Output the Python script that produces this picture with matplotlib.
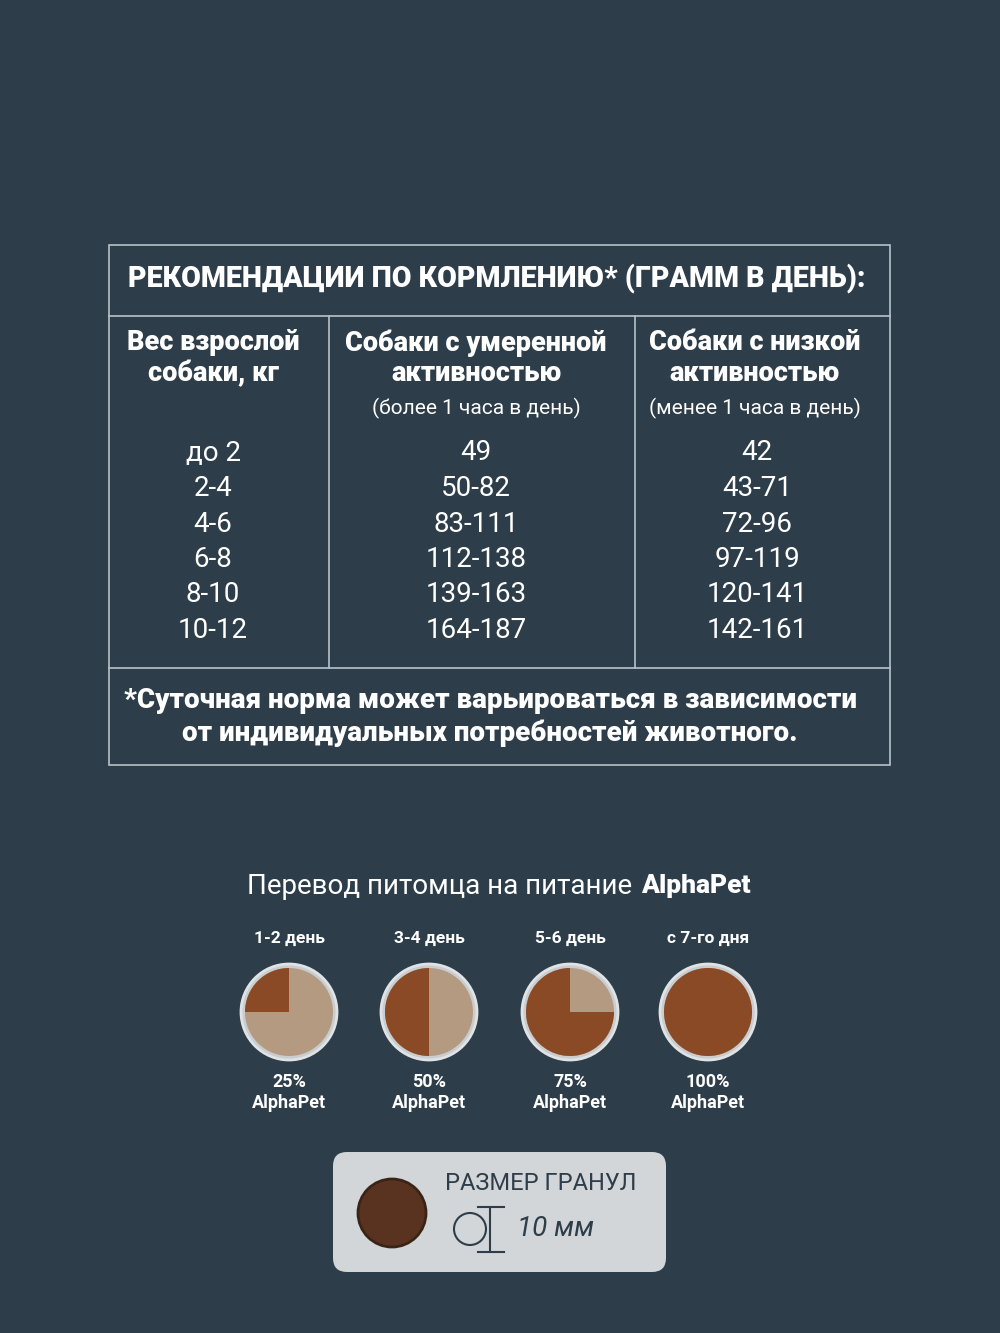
import matplotlib
matplotlib.use("Agg")
import matplotlib.pyplot as plt
from matplotlib.patches import Rectangle, Circle, Wedge, FancyBboxPatch

weights = ["до 2", "2-4", "4-6", "6-8", "8-10", "10-12"]
moderate = ["49", "50-82", "83-111", "112-138", "139-163", "164-187"]
low = ["42", "43-71", "72-96", "97-119", "120-141", "142-161"]
stages = ["1-2 день", "3-4 день", "5-6 день", "с 7-го дня"]
shares = [25, 50, 75, 100]

BG = "#2d3e4a"
W = "white"
fig = plt.figure(figsize=(10, 13.33), dpi=100, facecolor=BG)
ax = fig.add_axes([0, 0, 1, 1])
ax.set_xlim(0, 1000); ax.set_ylim(1333, 0); ax.axis("off")
ax.set_facecolor(BG)

lc = "#b8c2c8"
ax.add_patch(Rectangle((109, 245), 781, 520, fill=False, ec=lc, lw=1.2))
for y in (316, 668):
    ax.plot([109, 890], [y, y], color=lc, lw=1.2)
for x in (329, 635):
    ax.plot([x, x], [316, 668], color=lc, lw=1.2)

B = dict(color=W, fontfamily="Roboto", fontweight="black", ha="center", va="center")
R = dict(color=W, fontfamily="Roboto", ha="center", va="center")
ax.text(497, 278, "РЕКОМЕНДАЦИИ ПО КОРМЛЕНИЮ* (ГРАММ В ДЕНЬ):", fontsize=20.6, **B)
ax.text(213, 358, "Вес взрослой\nсобаки, кг", fontsize=19.5, linespacing=1.15, **B)
ax.text(476, 358, "Собаки с умеренной\nактивностью", fontsize=19.5, linespacing=1.15, **B)
ax.text(755, 358, "Собаки с низкой\nактивностью", fontsize=19.5, linespacing=1.15, **B)
ax.text(476, 408, "(более 1 часа в день)", fontsize=15, **R)
ax.text(755, 408, "(менее 1 часа в день)", fontsize=15, **R)
for i, (a, b, c) in enumerate(zip(weights, moderate, low)):
    y = 453 + i * 35.5
    ax.text(213, y, a, fontsize=20, **R)
    ax.text(476, y, b, fontsize=20, **R)
    ax.text(757, y, c, fontsize=20, **R)
ax.text(490, 717, "*Суточная норма может варьироваться в зависимости\nот индивидуальных потребностей животного.",
        fontsize=20, linespacing=1.25, **B)

ax.text(632, 886, "Перевод питомца на питание", fontsize=20,
        **{**R, "ha": "right"})
ax.text(641, 886, "AlphaPet", fontsize=19, **{**B, "ha": "left"})

xs = [289, 429, 570, 708]
for x, st, p in zip(xs, stages, shares):
    ax.text(x, 938, st, fontsize=12.5, fontweight="bold", **R)
    ax.add_patch(Circle((x, 1012), 48, fc="#c9cdd0", ec="#e0e3e5", lw=2))
    ax.add_patch(Circle((x, 1012), 44, fc="#b59a82", ec="none"))
    ax.add_patch(Wedge((x, 1012), 44, 270 - 360 * p / 100, 270, fc="#8a4a26", ec="none"))
    ax.text(x, 1082, f"{p}%", fontsize=13, fontweight="bold", **R)
    ax.text(x, 1103, "AlphaPet", fontsize=13, fontweight="bold", **R)

ax.add_patch(FancyBboxPatch((333, 1152), 333, 120, boxstyle="round,pad=0,rounding_size=14",
                            fc="#d3d6d8", ec="none"))
ax.add_patch(Circle((392, 1213), 34, fc="#5a3320", ec="#3a2418", lw=2))
ax.text(541, 1184, "РАЗМЕР ГРАНУЛ", fontsize=17, color="#2d3e4a", fontfamily="Roboto", ha="center", va="center")
ax.add_patch(Circle((470, 1229), 16, fill=False, ec="#2d3e4a", lw=1.5))
ax.plot([490, 490], [1209, 1250], color="#2d3e4a", lw=1.5)
ax.plot([478, 504], [1207, 1207], color="#2d3e4a", lw=1.5)
ax.plot([478, 504], [1252, 1252], color="#2d3e4a", lw=1.5)
ax.text(556, 1229, "10 мм", fontsize=20, style="italic", color="#2d3e4a", fontfamily="Roboto", ha="center", va="center")

fig.savefig("out.png", dpi=100, facecolor=BG)
